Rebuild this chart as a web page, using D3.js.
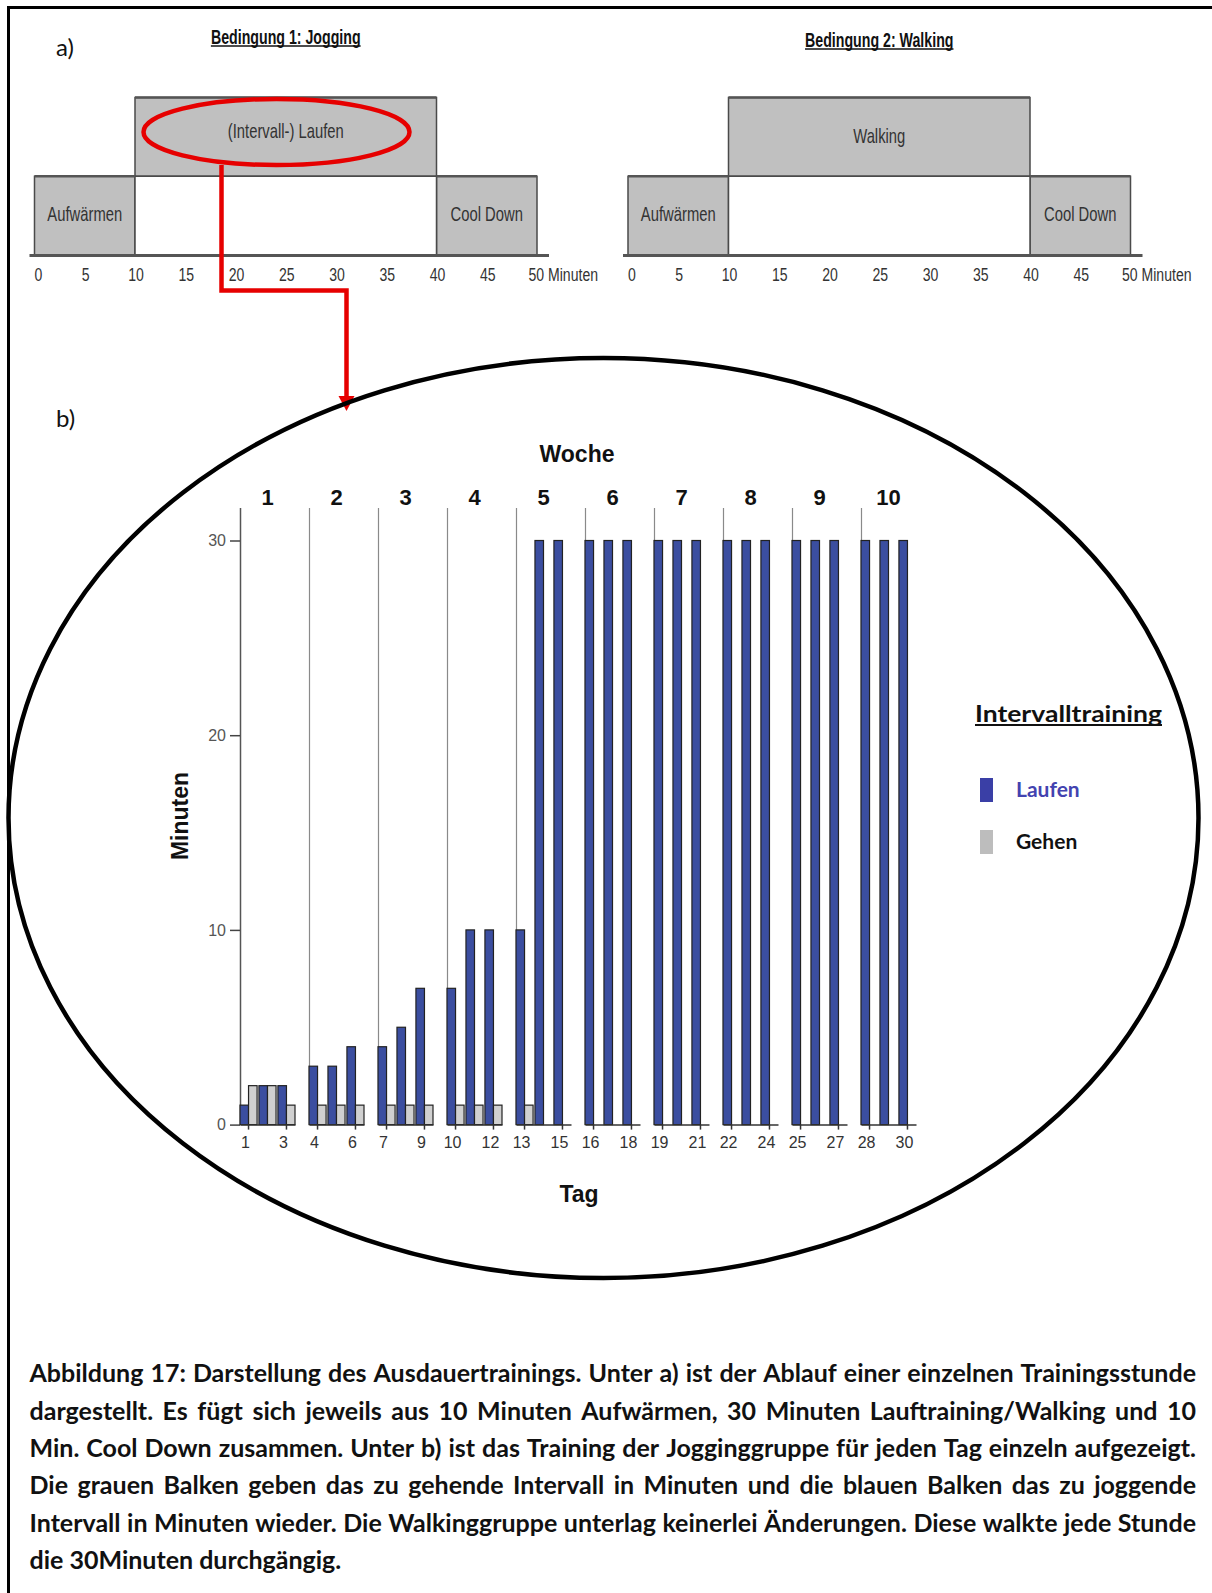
<!DOCTYPE html>
<html><head><meta charset="utf-8">
<script src="https://cdn.jsdelivr.net/npm/d3@7"></script>
<style>
body{margin:0;background:#fff}
svg{display:block}
.cond{font-family:"Liberation Sans",Arial,sans-serif;fill:#333}
.chart{font-family:"Liberation Sans",Arial,sans-serif}
.cal{font-family:Lato,"Open Sans",sans-serif}
</style>
</head><body>
<svg id="c" width="1212" height="1593"></svg>
<script>
// ---------------- DATA ----------------
const conditionTitles = ["Bedingung 1: Jogging", "Bedingung 2: Walking"];
const phaseLabelsJogging = ["Aufwärmen", "(Intervall-) Laufen", "Cool Down"];
const phaseLabelsWalking = ["Aufwärmen", "Walking", "Cool Down"];
const phaseStart = [0, 10, 40];
const phaseEnd = [10, 40, 50];
const phaseLevel = [0, 1, 0];
const minuteTicks = [0, 5, 10, 15, 20, 25, 30, 35, 40, 45, 50];
const minuteUnit = "Minuten";

const weeks = [1, 2, 3, 4, 5, 6, 7, 8, 9, 10];
const days = d3.range(1, 31);
const laufen = [1, 2, 2, 3, 3, 4, 4, 5, 7, 7, 10, 10, 10, 30, 30,
                30, 30, 30, 30, 30, 30, 30, 30, 30, 30, 30, 30, 30, 30, 30];
const gehen  = [2, 2, 1, 1, 1, 1, 1, 1, 1, 1, 1, 1, 1, 0, 0,
                0, 0, 0, 0, 0, 0, 0, 0, 0, 0, 0, 0, 0, 0, 0];
const dayTickLabels = [1, 3, 4, 6, 7, 9, 10, 12, 13, 15, 16, 18, 19, 21, 22, 24, 25, 27, 28, 30];
const yTicks = [0, 10, 20, 30];
const seriesNames = ["Laufen", "Gehen"];
const legendTitle = "Intervalltraining";
const axisTitles = { top: "Woche", x: "Tag", y: "Minuten" };
const captionLines = [
  "Abbildung 17: Darstellung des Ausdauertrainings. Unter a) ist der Ablauf einer einzelnen Trainingsstunde",
  "dargestellt. Es fügt sich jeweils aus 10 Minuten Aufwärmen, 30 Minuten Lauftraining/Walking und 10",
  "Min. Cool Down zusammen. Unter b) ist das Training der Jogginggruppe für jeden Tag einzeln aufgezeigt.",
  "Die grauen Balken geben das zu gehende Intervall in Minuten und die blauen Balken das zu joggende",
  "Intervall in Minuten wieder. Die Walkinggruppe unterlag keinerlei Änderungen. Diese walkte jede Stunde",
  "die 30Minuten durchgängig."
];

// ---------------- STYLE ----------------
const BLUE = "#3b4ea0", GRAY = "#d0d0d0", BOXGRAY = "#c0c0c0", RED = "#e60000";
const COND = 0.74;

const svg = d3.select("#c");

// condensed text: drawn at origin, squeezed horizontally by a transform
function condText(parent, str, x, y, size, anchor, f, bold) {
  const t = parent.append("text").attr("class", "cond")
    .attr("transform", `translate(${x},${y}) scale(${f},1)`)
    .attr("dy", "0.35em").attr("text-anchor", anchor).attr("font-size", size)
    .text(str);
  if (bold) t.attr("font-weight", "bold").style("fill", "#111");
  return t;
}

// page border (left + top)
svg.append("path").attr("d", "M8.5,1593 V7.5 H1212").attr("fill", "none")
  .attr("stroke", "#000").attr("stroke-width", 3);

// ---------------- PART a) ----------------
const cal = svg.append("g").attr("class", "cal");
cal.append("text").attr("x", 56).attr("y", 48).attr("dy", "0.35em")
  .attr("font-size", 24).attr("fill", "#111").text("a)");
cal.append("text").attr("x", 56).attr("y", 419).attr("dy", "0.35em")
  .attr("font-size", 24).attr("fill", "#111").text("b)");

const levelScale = d3.scaleBand().domain([1, 0]).range([97.5, 255]);

function drawSession(range, labels, title, titleY, topLabelDy) {
  const x = d3.scaleLinear().domain([0, 50]).range(range);
  const g = svg.append("g");
  phaseStart.forEach((s, i) => {
    g.append("rect")
      .attr("x", x(s)).attr("y", levelScale(phaseLevel[i]))
      .attr("width", x(phaseEnd[i]) - x(s)).attr("height", levelScale.bandwidth())
      .attr("fill", BOXGRAY).attr("stroke", "#4a4a4a").attr("stroke-width", 1.5);
  });
  g.append("rect")
    .attr("x", x(10)).attr("y", levelScale(0))
    .attr("width", x(40) - x(10)).attr("height", levelScale.bandwidth())
    .attr("fill", "#fff").attr("stroke", "#4a4a4a").attr("stroke-width", 1.5);
  phaseStart.forEach((s, i) => {
    g.append("line").attr("x1", x(s)).attr("x2", x(phaseEnd[i]))
      .attr("y1", levelScale(phaseLevel[i])).attr("y2", levelScale(phaseLevel[i]))
      .attr("stroke", "#555").attr("stroke-width", 2.5);
  });
  phaseStart.forEach((s, i) => {
    const cy = levelScale(phaseLevel[i]) + levelScale.bandwidth() / 2 + (phaseLevel[i] === 1 ? topLabelDy : -2);
    condText(g, labels[i], (x(s) + x(phaseEnd[i])) / 2, cy, 20, "middle", COND, false);
  });
  g.append("line").attr("x1", x(0) - 5).attr("x2", x(50) + 12)
    .attr("y1", 255.5).attr("y2", 255.5).attr("stroke", "#555").attr("stroke-width", 3);
  minuteTicks.forEach(m => {
    const last = m === 50;
    condText(g, last ? m + " " + minuteUnit : String(m),
      last ? x(m) - 8.5 : x(m) + (m === 0 ? 4 : 1), 274, 19,
      last ? "start" : "middle", COND, false);
  });
  const cx = (range[0] + range[1]) / 2;
  const tt = condText(g, title, cx, titleY, 20, "middle", 0.71, true);
  const w = tt.node().getComputedTextLength() * 0.71;
  g.append("line").attr("x1", cx - w / 2).attr("x2", cx + w / 2)
    .attr("y1", titleY + 9).attr("y2", titleY + 9).attr("stroke", "#111").attr("stroke-width", 1.5);
  return x;
}
drawSession([34.5, 537], phaseLabelsJogging, conditionTitles[0], 37, -6);
drawSession([628, 1130.5], phaseLabelsWalking, conditionTitles[1], 40, -1);

// red annotation
svg.append("ellipse").attr("cx", 276.5).attr("cy", 132).attr("rx", 133).attr("ry", 33)
  .attr("fill", "none").attr("stroke", RED).attr("stroke-width", 4.5);
svg.append("path").attr("d", "M221.5,165 V290.5 H346.5 V398")
  .attr("fill", "none").attr("stroke", RED).attr("stroke-width", 4.5);
svg.append("path").attr("d", "M338.5,396 L354.5,396 L346.5,411 Z").attr("fill", RED);

// big ellipse
svg.append("ellipse").attr("cx", 603.5).attr("cy", 818).attr("rx", 595).attr("ry", 460)
  .attr("fill", "none").attr("stroke", "#000").attr("stroke-width", 4.5);

// ---------------- PART b) ----------------
const ch = svg.append("g").attr("class", "chart");
const y = d3.scaleLinear().domain([0, 30]).range([1124.6, 540.5]);
const xWeek = d3.scaleBand().domain(weeks).range([240, 930]);
const xDay = d3.scaleBand().domain([0, 1, 2]).range([0, 55]).paddingInner(0.1);
const xSub = d3.scaleBand().domain(seriesNames).range([0, xDay.bandwidth()]);
const TOP = 508;

weeks.forEach((w, i) => {
  ch.append("line").attr("x1", xWeek(w) + 0.5).attr("x2", xWeek(w) + 0.5)
    .attr("y1", TOP).attr("y2", y(0))
    .attr("stroke", i === 0 ? "#555" : "#8a8a8a").attr("stroke-width", i === 0 ? 1.5 : 1.2);
  ch.append("text").attr("x", xWeek(w) + 27.5).attr("y", 497).attr("dy", "0.35em")
    .attr("text-anchor", "middle").attr("font-size", 22).attr("font-weight", "bold")
    .attr("fill", "#111").text(w);
});

const yAxis = ch.append("g").attr("transform", "translate(240,0)")
  .call(d3.axisLeft(y).tickValues(yTicks).tickSize(10).tickPadding(4));
yAxis.select(".domain").remove();
yAxis.selectAll(".tick line").attr("stroke", "#444").attr("stroke-width", 1.5);
yAxis.selectAll(".tick text").attr("font-size", 16).attr("fill", "#555")
  .attr("font-family", "Liberation Sans, Arial, sans-serif");

weeks.forEach((w, wi) => {
  const wDays = days.slice(wi * 3, wi * 3 + 3);
  const left = xWeek(w);
  const xd = d3.scaleBand().domain(wDays).range([left, left + 55]).paddingInner(0.1);
  wDays.forEach(d => {
    const vals = [laufen[d - 1], gehen[d - 1]];
    vals.forEach((v, s) => {
      if (v <= 0) return;
      ch.append("rect")
        .attr("x", xd(d) + xSub(seriesNames[s])).attr("y", y(v))
        .attr("width", xSub.bandwidth()).attr("height", y(0) - y(v))
        .attr("fill", s === 0 ? BLUE : GRAY).attr("stroke", "#222").attr("stroke-width", 1.2);
    });
  });
  const ax = ch.append("g").attr("transform", `translate(0,${y(0)})`)
    .call(d3.axisBottom(xd).tickValues(wDays.filter(d => dayTickLabels.includes(d)))
      .tickSize(5).tickSizeOuter(0).tickPadding(7));
  ax.select(".domain").attr("stroke", "#333").attr("stroke-width", 1.5);
  ax.selectAll(".tick line").attr("stroke", "#333").attr("stroke-width", 1.5);
  ax.selectAll(".tick text").attr("font-size", 16).attr("fill", "#333").attr("x", -3)
    .attr("font-family", "Liberation Sans, Arial, sans-serif");
});

ch.append("text").attr("x", 577).attr("y", 454).attr("dy", "0.35em").attr("text-anchor", "middle")
  .attr("font-size", 23).attr("font-weight", "bold").attr("fill", "#111").text(axisTitles.top);
ch.append("text").attr("x", 579).attr("y", 1194).attr("dy", "0.35em").attr("text-anchor", "middle")
  .attr("font-size", 23).attr("font-weight", "bold").attr("fill", "#111").text(axisTitles.x);
ch.append("text").attr("transform", "translate(180,816) rotate(-90)").attr("dy", "0.35em")
  .attr("text-anchor", "middle").attr("font-size", 23).attr("font-weight", "bold")
  .attr("fill", "#111").text(axisTitles.y);

// legend
const lg = svg.append("g").attr("class", "cal");
lg.append("text").attr("x", 975).attr("y", 714).attr("dy", "0.35em")
  .attr("font-size", 23).attr("font-weight", "bold").attr("fill", "#111").text(legendTitle)
  .attr("textLength", 187).attr("lengthAdjust", "spacingAndGlyphs");
lg.append("line").attr("x1", 975).attr("x2", 1162).attr("y1", 725).attr("y2", 725)
  .attr("stroke", "#111").attr("stroke-width", 2);
const legColors = [["#3a3fa6", "#4343b0"], ["#bdbdbd", "#111"]];
const legY = d3.scalePoint().domain(seriesNames).range([790, 842]);
seriesNames.forEach((s, i) => {
  lg.append("rect").attr("x", 980).attr("y", legY(s) - 12).attr("width", 13).attr("height", 24)
    .attr("fill", legColors[i][0]);
  lg.append("text").attr("x", 1016).attr("y", legY(s)).attr("dy", "0.35em")
    .attr("font-size", 21).attr("font-weight", "bold").attr("fill", legColors[i][1]).text(s);
});

// ---------------- CAPTION ----------------
const capX0 = 29.5, capX1 = 1196;
const capY = d3.scaleLinear().domain([0, 5]).range([1373.5, 1560.5]);
const capStyle = sel => sel.attr("class", "cal").attr("font-size", 25).attr("font-weight", "bold").attr("fill", "#111");
function measure(str) {
  const t = svg.append("text").call(capStyle).text(str);
  const l = t.node().getComputedTextLength(); t.remove(); return l;
}
const spaceW = measure("a a") - measure("aa");
captionLines.forEach((line, i) => {
  const words = line.split(" ");
  const widths = words.map(measure);
  const justify = i < captionLines.length - 1;
  let gap = justify ? (capX1 - capX0 - d3.sum(widths)) / (words.length - 1) : spaceW;
  let scaleX = 1;
  if (gap < spaceW * 0.6) { // too tight: squeeze the line slightly
    scaleX = (capX1 - capX0) / (d3.sum(widths) + spaceW * 0.6 * (words.length - 1));
    gap = spaceW * 0.6;
  }
  const t = svg.append("text").call(capStyle)
    .attr("transform", `translate(${capX0},${capY(i)}) scale(${scaleX},1)`).attr("dy", "0.35em");
  let x = 0;
  words.forEach((w, j) => { t.append("tspan").attr("x", x).text(w); x += widths[j] + gap; });
});
</script>
</body></html>
